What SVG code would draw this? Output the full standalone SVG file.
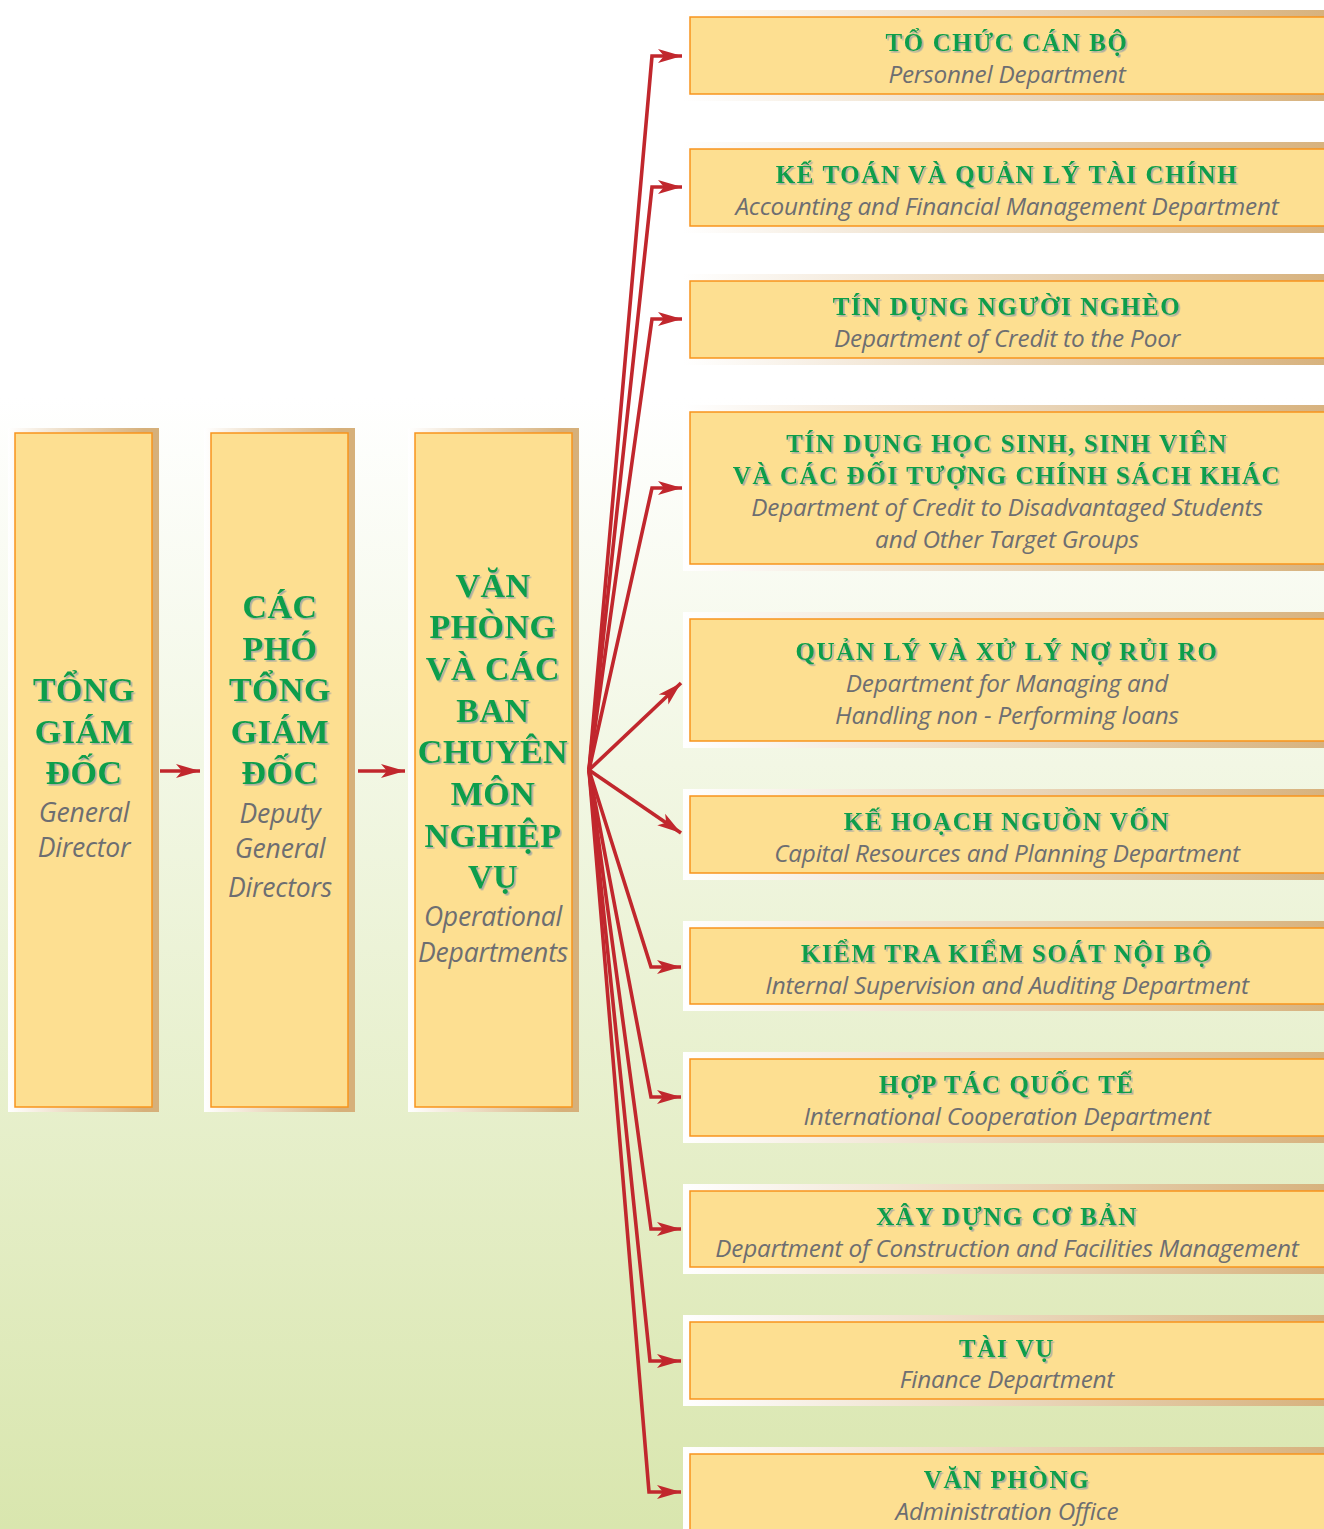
<svg xmlns="http://www.w3.org/2000/svg" width="1324" height="1529" viewBox="0 0 1324 1529">
<defs>
<linearGradient id="bg" x1="0" y1="0" x2="0" y2="1">
<stop offset="0" stop-color="#ffffff"/>
<stop offset="0.26" stop-color="#ffffff"/>
<stop offset="0.5" stop-color="#f2f7e4"/>
<stop offset="1" stop-color="#d9e6ae"/>
</linearGradient>
<linearGradient id="back" x1="0" y1="0" x2="1" y2="0">
<stop offset="0" stop-color="#ffffff"/>
<stop offset="1" stop-color="#d6b07a"/>
</linearGradient>
<linearGradient id="backS" x1="0" y1="0" x2="1" y2="0">
<stop offset="0" stop-color="#ffffff"/>
<stop offset="0.9" stop-color="#d6b07a"/>
<stop offset="1" stop-color="#d6b07a"/>
</linearGradient>
<filter id="sh" x="-5%" y="-20%" width="110%" height="140%">
<feDropShadow dx="1.6" dy="1.6" stdDeviation="0.4" flood-color="#8d9ba6" flood-opacity="0.75"/>
</filter>
<marker id="ah" markerWidth="26" markerHeight="16" viewBox="-24 -8 26 16" refX="0" refY="0" orient="auto" markerUnits="userSpaceOnUse">
<path d="M0,0 L-24,-7 L-18,0 L-24,7 Z" fill="#c1272d"/>
</marker>
<style>
.bk{fill:url(#back);}
.bs{fill:url(#backS);}
.in{fill:#fddf91;stroke:#f7941d;stroke-width:1.5;}
.vn{font-family:"Liberation Serif","DejaVu Serif",serif;font-weight:bold;fill:#0a9e4b;text-anchor:middle;filter:url(#sh);}
.h{font-size:25px;letter-spacing:1.6px;}
.hl{font-size:34px;letter-spacing:0.5px;}
.en{font-family:"Open Sans","Noto Sans",sans-serif;font-style:italic;fill:#6d6e71;text-anchor:middle;}
.e{font-size:24.3px;letter-spacing:-0.2px;}
.el{font-size:26.5px;letter-spacing:-0.2px;}
.ln{fill:none;stroke:#c1272d;stroke-width:3.6;stroke-linejoin:miter;marker-end:url(#ah);}
</style>
</defs>
<rect x="0" y="0" width="1324" height="1529" fill="url(#bg)"/>

<g id="tong-giam-doc">
<rect class="bs" x="8" y="428" width="151" height="684"/>
<rect class="in" x="15" y="433" width="137" height="674"/>
<text class="vn hl" x="84" y="701">TỔNG</text>
<text class="vn hl" x="84" y="743">GIÁM</text>
<text class="vn hl" x="84" y="784">ĐỐC</text>
<text class="en el" x="84" y="822">General</text>
<text class="en el" x="84" y="857">Director</text>
</g>

<g id="pho-tong-giam-doc">
<rect class="bs" x="204" y="428" width="151" height="684"/>
<rect class="in" x="211" y="433" width="137" height="674"/>
<text class="vn hl" x="280" y="618">CÁC</text>
<text class="vn hl" x="280" y="660">PHÓ</text>
<text class="vn hl" x="280" y="701">TỔNG</text>
<text class="vn hl" x="280" y="743">GIÁM</text>
<text class="vn hl" x="280" y="784">ĐỐC</text>
<text class="en el" x="280" y="823">Deputy</text>
<text class="en el" x="280" y="858">General</text>
<text class="en el" x="280" y="897">Directors</text>
</g>

<g id="van-phong-ban">
<rect class="bs" x="408" y="428" width="171" height="684"/>
<rect class="in" x="415" y="433" width="157" height="674"/>
<text class="vn hl" x="493" y="597">VĂN</text>
<text class="vn hl" x="493" y="638">PHÒNG</text>
<text class="vn hl" x="493" y="680">VÀ CÁC</text>
<text class="vn hl" x="493" y="722">BAN</text>
<text class="vn hl" x="493" y="763">CHUYÊN</text>
<text class="vn hl" x="493" y="805">MÔN</text>
<text class="vn hl" x="493" y="847">NGHIỆP</text>
<text class="vn hl" x="493" y="888">VỤ</text>
<text class="en el" x="493" y="926">Operational</text>
<text class="en el" x="493" y="962">Departments</text>
</g>

<g id="d1">
<rect class="bk" x="683" y="10" width="660" height="91"/>
<rect class="in" x="690" y="17" width="650" height="77"/>
<text class="vn h" x="1007" y="51">TỔ CHỨC CÁN BỘ</text>
<text class="en e" x="1007" y="83">Personnel Department</text>
</g>
<g id="d2">
<rect class="bk" x="683" y="142" width="660" height="91"/>
<rect class="in" x="690" y="149" width="650" height="77"/>
<text class="vn h" x="1007" y="183">KẾ TOÁN VÀ QUẢN LÝ TÀI CHÍNH</text>
<text class="en e" x="1007" y="215">Accounting and Financial Management Department</text>
</g>
<g id="d3">
<rect class="bk" x="683" y="274" width="660" height="91"/>
<rect class="in" x="690" y="281" width="650" height="77"/>
<text class="vn h" x="1007" y="315">TÍN DỤNG NGƯỜI NGHÈO</text>
<text class="en e" x="1007" y="347">Department of Credit to the Poor</text>
</g>
<g id="d4">
<rect class="bk" x="683" y="405" width="660" height="166"/>
<rect class="in" x="690" y="412" width="650" height="152"/>
<text class="vn h" x="1007" y="452">TÍN DỤNG HỌC SINH, SINH VIÊN</text>
<text class="vn h" x="1007" y="484">VÀ CÁC ĐỐI TƯỢNG CHÍNH SÁCH KHÁC</text>
<text class="en e" x="1007" y="516">Department of Credit to Disadvantaged Students</text>
<text class="en e" x="1007" y="548">and Other Target Groups</text>
</g>
<g id="d5">
<rect class="bk" x="683" y="612" width="660" height="136"/>
<rect class="in" x="690" y="619" width="650" height="122"/>
<text class="vn h" x="1007" y="660">QUẢN LÝ VÀ XỬ LÝ NỢ RỦI RO</text>
<text class="en e" x="1007" y="692">Department for Managing and</text>
<text class="en e" x="1007" y="724">Handling non - Performing loans</text>
</g>
<g id="d6">
<rect class="bk" x="683" y="789" width="660" height="91"/>
<rect class="in" x="690" y="796" width="650" height="77"/>
<text class="vn h" x="1007" y="830">KẾ HOẠCH NGUỒN VỐN</text>
<text class="en e" x="1007" y="862">Capital Resources and Planning Department</text>
</g>
<g id="d7">
<rect class="bk" x="683" y="921" width="660" height="90"/>
<rect class="in" x="690" y="928" width="650" height="76"/>
<text class="vn h" x="1007" y="962">KIỂM TRA KIỂM SOÁT NỘI BỘ</text>
<text class="en e" x="1007" y="994">Internal Supervision and Auditing Department</text>
</g>
<g id="d8">
<rect class="bk" x="683" y="1052" width="660" height="91"/>
<rect class="in" x="690" y="1059" width="650" height="77"/>
<text class="vn h" x="1007" y="1093">HỢP TÁC QUỐC TẾ</text>
<text class="en e" x="1007" y="1125">International Cooperation Department</text>
</g>
<g id="d9">
<rect class="bk" x="683" y="1184" width="660" height="90"/>
<rect class="in" x="690" y="1191" width="650" height="76"/>
<text class="vn h" x="1007" y="1225">XÂY DỰNG CƠ BẢN</text>
<text class="en e" x="1007" y="1257">Department of Construction and Facilities Management</text>
</g>
<g id="d10">
<rect class="bk" x="683" y="1315" width="660" height="91"/>
<rect class="in" x="690" y="1322" width="650" height="77"/>
<text class="vn h" x="1007" y="1357">TÀI VỤ</text>
<text class="en e" x="1007" y="1388">Finance Department</text>
</g>
<g id="d11">
<rect class="bk" x="683" y="1447" width="660" height="100"/>
<rect class="in" x="690" y="1454" width="650" height="90"/>
<text class="vn h" x="1007" y="1488">VĂN PHÒNG</text>
<text class="en e" x="1007" y="1520">Administration Office</text>
</g>

<g id="connectors">
<path class="ln" d="M160,771 L200,771"/>
<path class="ln" d="M358,771 L405,771"/>
<path class="ln" d="M589,770 L652,56 L682,56"/>
<path class="ln" d="M589,770 L652,187 L682,187"/>
<path class="ln" d="M589,770 L652,319 L682,319"/>
<path class="ln" d="M589,770 L652,488 L682,488"/>
<path class="ln" d="M589,770 L681,683"/>
<path class="ln" d="M589,770 L681,833"/>
<path class="ln" d="M589,770 L651,967 L681,967"/>
<path class="ln" d="M589,770 L651,1097 L681,1097"/>
<path class="ln" d="M589,770 L651,1229 L681,1229"/>
<path class="ln" d="M589,770 L650,1361 L681,1361"/>
<path class="ln" d="M589,770 L649,1492 L681,1492"/>
</g>
</svg>
